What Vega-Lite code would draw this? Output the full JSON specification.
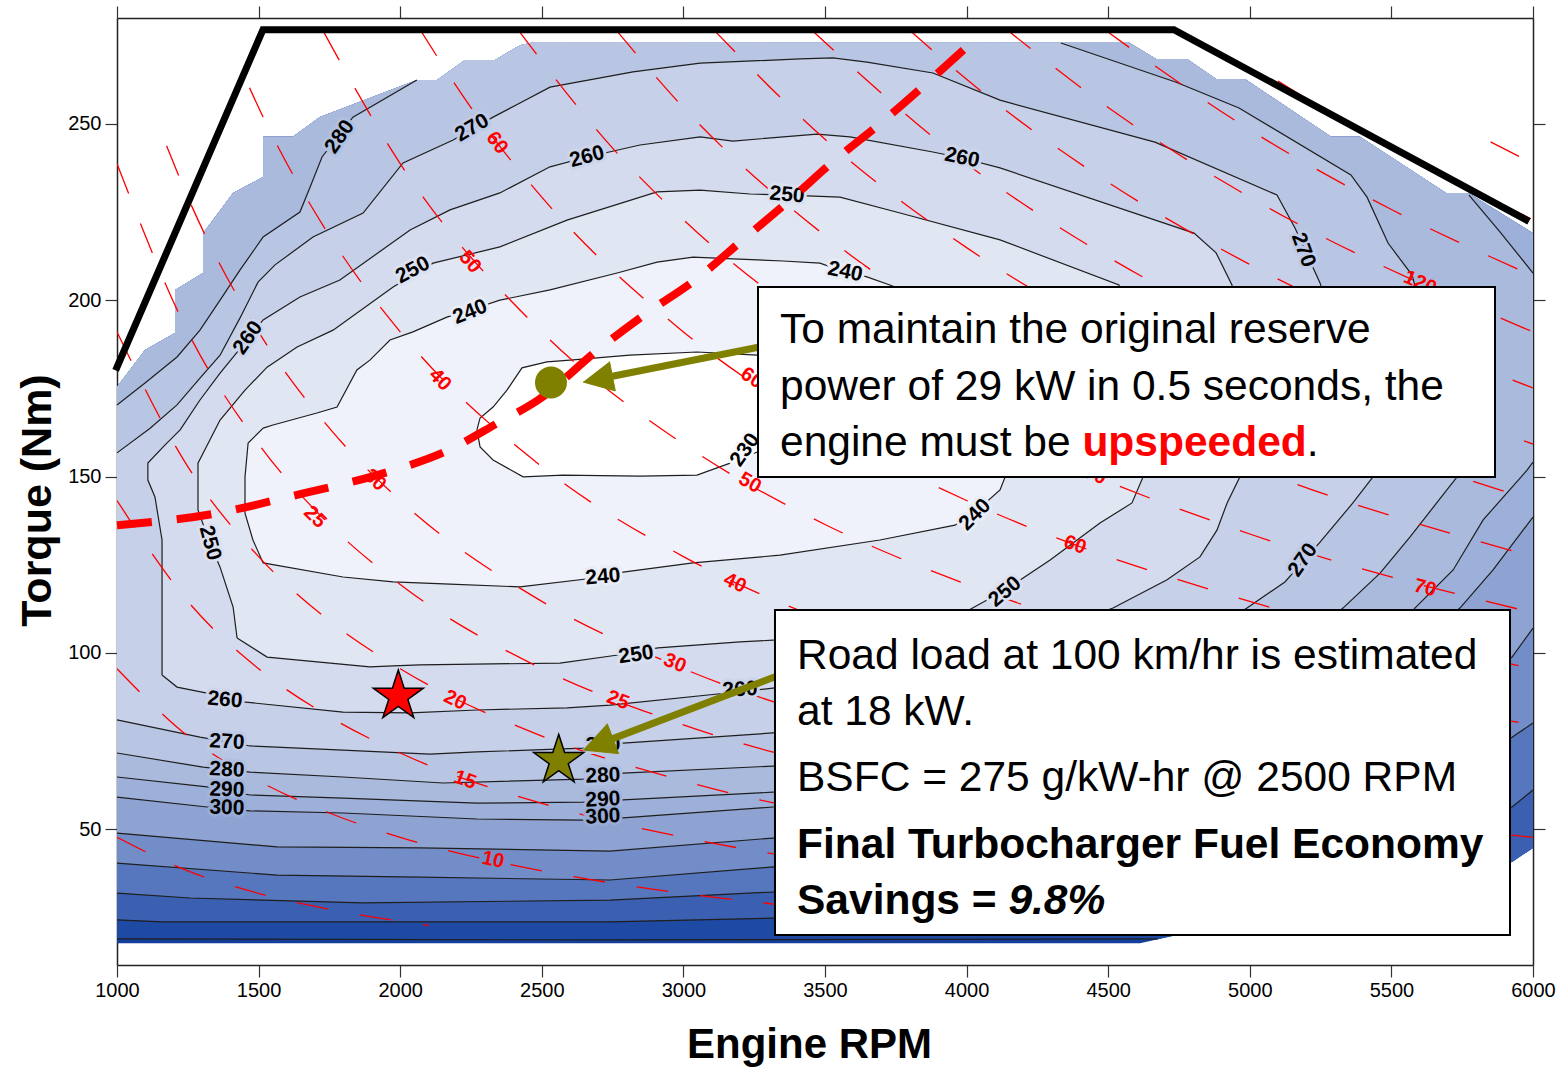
{
"$schema": "https://vega.github.io/schema/vega-lite/v6.json",
"width": 1416, "height": 947,
"autosize": {"type": "none"},
"padding": {"left": 117, "top": 18, "right": 29, "bottom": 103},
"background": "#ffffff",
"config": {
  "font": "Liberation Sans",
  "view": {"stroke": null},
  "axis": {"grid": false, "domain": true, "domainColor": "#222222", "domainWidth": 1.5, "zindex": 1,
    "labelFont": "Liberation Sans", "labelFontSize": 20, "labelColor": "#000000", "labelPadding": 3,
    "tickColor": "#333333", "tickSize": 12, "tickWidth": 1.2,
    "titleFont": "Liberation Sans", "titleFontSize": 43, "titleFontWeight": "bold", "titleColor": "#000000"}
},
"datasets": {
"poly": [
{"p":"top","s":"b","i":1,"rpm":1000,"nm":175.4},{"p":"top","s":"b","i":2,"rpm":1099,"nm":185.9},{"p":"top","s":"b","i":3,"rpm":1205,"nm":190.7},{"p":"top","s":"b","i":4,"rpm":1205,"nm":202.9},{"p":"top","s":"b","i":5,"rpm":1304,"nm":207.7},{"p":"top","s":"b","i":6,"rpm":1304,"nm":219.0},{"p":"top","s":"b","i":7,"rpm":1410,"nm":230.4},{"p":"top","s":"b","i":8,"rpm":1516,"nm":234.9},{"p":"top","s":"b","i":9,"rpm":1516,"nm":246.3},{"p":"top","s":"b","i":10,"rpm":1621,"nm":246.3},{"p":"top","s":"b","i":11,"rpm":1717,"nm":251.9},{"p":"top","s":"b","i":12,"rpm":2059,"nm":262.4},{"p":"top","s":"b","i":13,"rpm":2130,"nm":262.4},{"p":"top","s":"b","i":14,"rpm":2229,"nm":268.1},{"p":"top","s":"b","i":15,"rpm":2335,"nm":268.1},{"p":"top","s":"b","i":16,"rpm":2423,"nm":272.3},{"p":"top","s":"b","i":17,"rpm":2476,"nm":273.2},{"p":"top","s":"b","i":18,"rpm":4570,"nm":273.2},{"p":"top","s":"b","i":19,"rpm":4669,"nm":268.4},{"p":"top","s":"b","i":20,"rpm":4778,"nm":268.4},{"p":"top","s":"b","i":21,"rpm":4881,"nm":262.7},{"p":"top","s":"b","i":22,"rpm":4983,"nm":262.7},{"p":"top","s":"b","i":23,"rpm":5287,"nm":246.3},{"p":"top","s":"b","i":24,"rpm":5389,"nm":246.3},{"p":"top","s":"b","i":25,"rpm":5693,"nm":230.4},{"p":"top","s":"b","i":26,"rpm":5771,"nm":230.4},
{"p":"tr","s":"b","i":27,"rpm":6000,"nm":219.0},
{"p":"br","s":"b","i":28,"rpm":6000,"nm":44.7},{"p":"br","s":"b","i":29,"rpm":5926,"nm":40.7},
{"p":"bot","s":"b","i":30,"rpm":4612,"nm":17.7},{"p":"bot","s":"b","i":31,"rpm":1000,"nm":17.7},

{"p":"350","s":"A","i":100,"rpm":4676,"nm":18.9},{"p":"350","s":"A","i":101,"rpm":2741,"nm":18.6},{"p":"350","s":"A","i":102,"rpm":1000,"nm":18.9},

{"p":"340","s":"A","i":100,"rpm":5068,"nm":25.7},{"p":"340","s":"A","i":101,"rpm":4118,"nm":25.4},{"p":"340","s":"A","i":102,"rpm":3316,"nm":24.8},{"p":"340","s":"A","i":103,"rpm":2741,"nm":23.7},{"p":"340","s":"A","i":104,"rpm":1159,"nm":23.7},{"p":"340","s":"A","i":105,"rpm":1000,"nm":24.3},

{"p":"330","s":"A","i":100,"rpm":6000,"nm":61.1},{"p":"330","s":"A","i":101,"rpm":5926,"nm":56.3},{"p":"330","s":"A","i":102,"rpm":5530,"nm":44.1},{"p":"330","s":"A","i":103,"rpm":4824,"nm":34.2},{"p":"330","s":"A","i":104,"rpm":4118,"nm":31.3},{"p":"330","s":"A","i":105,"rpm":3316,"nm":32.2},{"p":"330","s":"A","i":106,"rpm":2741,"nm":29.9},{"p":"330","s":"A","i":107,"rpm":1869,"nm":29.1},{"p":"330","s":"A","i":108,"rpm":1258,"nm":30.5},{"p":"330","s":"A","i":109,"rpm":1000,"nm":31.9},

{"p":"320","s":"A","i":100,"rpm":6000,"nm":80.1},{"p":"320","s":"A","i":101,"rpm":5926,"nm":76.1},{"p":"320","s":"A","i":102,"rpm":5530,"nm":58.3},{"p":"320","s":"A","i":103,"rpm":4824,"nm":44.1},{"p":"320","s":"A","i":104,"rpm":4118,"nm":39.0},{"p":"320","s":"A","i":105,"rpm":3316,"nm":39.3},{"p":"320","s":"A","i":106,"rpm":2741,"nm":35.6},{"p":"320","s":"A","i":107,"rpm":2070,"nm":36.4},{"p":"320","s":"A","i":108,"rpm":1565,"nm":37.0},{"p":"320","s":"A","i":109,"rpm":1000,"nm":40.4},

{"p":"310","s":"A","i":100,"rpm":6000,"nm":107.0},{"p":"310","s":"A","i":101,"rpm":5926,"nm":98.8},{"p":"310","s":"A","i":102,"rpm":5530,"nm":75.3},{"p":"310","s":"A","i":103,"rpm":4824,"nm":58.3},{"p":"310","s":"A","i":104,"rpm":4118,"nm":49.8},{"p":"310","s":"A","i":105,"rpm":3316,"nm":47.5},{"p":"310","s":"A","i":106,"rpm":2741,"nm":43.8},{"p":"310","s":"A","i":107,"rpm":2070,"nm":44.7},{"p":"310","s":"A","i":108,"rpm":1565,"nm":45.0},{"p":"310","s":"A","i":109,"rpm":1000,"nm":48.9},

{"p":"300","s":"A","i":100,"rpm":6000,"nm":138.5},{"p":"300","s":"A","i":101,"rpm":5859,"nm":123.5},{"p":"300","s":"A","i":102,"rpm":5742,"nm":112.7},{"p":"300","s":"A","i":103,"rpm":5530,"nm":97.9},{"p":"300","s":"A","i":104,"rpm":5001,"nm":76.7},{"p":"300","s":"A","i":105,"rpm":4118,"nm":59.7},{"p":"300","s":"A","i":106,"rpm":3316,"nm":56.3},{"p":"300","s":"A","i":107,"rpm":2787,"nm":53.2},{"p":"300","s":"A","i":108,"rpm":2646,"nm":52.6},{"p":"300","s":"A","i":109,"rpm":2271,"nm":52.9},{"p":"300","s":"A","i":110,"rpm":1798,"nm":54.6},{"p":"300","s":"A","i":111,"rpm":1470,"nm":55.2},{"p":"300","s":"A","i":112,"rpm":1318,"nm":56.3},{"p":"300","s":"A","i":113,"rpm":1000,"nm":59.1},

{"p":"290","s":"A","i":100,"rpm":5774,"nm":229.8},{"p":"290","s":"A","i":101,"rpm":5884,"nm":219.3},{"p":"290","s":"A","i":102,"rpm":6000,"nm":207.7},
{"p":"290","s":"B","i":103,"rpm":6000,"nm":154.1},{"p":"290","s":"B","i":104,"rpm":5979,"nm":151.8},{"p":"290","s":"B","i":105,"rpm":5824,"nm":137.7},{"p":"290","s":"B","i":106,"rpm":5718,"nm":123.5},{"p":"290","s":"B","i":107,"rpm":5583,"nm":112.7},{"p":"290","s":"B","i":108,"rpm":5354,"nm":92.3},{"p":"290","s":"B","i":109,"rpm":4824,"nm":72.4},{"p":"290","s":"B","i":110,"rpm":4118,"nm":62.5},{"p":"290","s":"B","i":111,"rpm":3316,"nm":60.5},{"p":"290","s":"B","i":112,"rpm":2787,"nm":58.3},{"p":"290","s":"B","i":113,"rpm":2646,"nm":57.7},{"p":"290","s":"B","i":114,"rpm":2271,"nm":57.4},{"p":"290","s":"B","i":115,"rpm":1798,"nm":58.8},{"p":"290","s":"B","i":116,"rpm":1470,"nm":59.7},{"p":"290","s":"B","i":117,"rpm":1318,"nm":62.0},{"p":"290","s":"B","i":118,"rpm":1000,"nm":64.8},

{"p":"280","s":"A","i":100,"rpm":1000,"nm":170.3},{"p":"280","s":"A","i":101,"rpm":1099,"nm":176.5},{"p":"280","s":"A","i":102,"rpm":1212,"nm":183.9},{"p":"280","s":"A","i":103,"rpm":1293,"nm":191.5},{"p":"280","s":"A","i":104,"rpm":1364,"nm":200.0},{"p":"280","s":"A","i":105,"rpm":1434,"nm":208.5},{"p":"280","s":"A","i":106,"rpm":1516,"nm":217.9},{"p":"280","s":"A","i":107,"rpm":1646,"nm":225.0},{"p":"280","s":"A","i":108,"rpm":1682,"nm":232.1},{"p":"280","s":"A","i":109,"rpm":1724,"nm":240.6},{"p":"280","s":"A","i":110,"rpm":1833,"nm":251.9},{"p":"280","s":"A","i":111,"rpm":2059,"nm":262.4},
{"p":"280","s":"b","i":112,"rpm":2130,"nm":262.4},{"p":"280","s":"b","i":113,"rpm":2229,"nm":268.1},{"p":"280","s":"b","i":114,"rpm":2335,"nm":268.1},{"p":"280","s":"b","i":115,"rpm":2423,"nm":272.3},{"p":"280","s":"b","i":116,"rpm":2476,"nm":273.2},
{"p":"280","s":"B","i":117,"rpm":4333,"nm":272.9},{"p":"280","s":"B","i":118,"rpm":4740,"nm":261.8},{"p":"280","s":"B","i":119,"rpm":4962,"nm":254.5},{"p":"280","s":"B","i":120,"rpm":5357,"nm":235.5},{"p":"280","s":"B","i":121,"rpm":5414,"nm":229.2},{"p":"280","s":"B","i":122,"rpm":5488,"nm":216.2},{"p":"280","s":"B","i":123,"rpm":5573,"nm":207.1},{"p":"280","s":"B","i":124,"rpm":5672,"nm":177.4},{"p":"280","s":"B","i":125,"rpm":5732,"nm":149.9},{"p":"280","s":"B","i":126,"rpm":5566,"nm":132.9},{"p":"280","s":"B","i":127,"rpm":5460,"nm":122.6},{"p":"280","s":"B","i":128,"rpm":5329,"nm":112.7},{"p":"280","s":"B","i":129,"rpm":5001,"nm":89.5},{"p":"280","s":"B","i":130,"rpm":4471,"nm":75.3},{"p":"280","s":"B","i":131,"rpm":3941,"nm":69.6},{"p":"280","s":"B","i":132,"rpm":3316,"nm":67.9},{"p":"280","s":"B","i":133,"rpm":2787,"nm":65.9},{"p":"280","s":"B","i":134,"rpm":2646,"nm":64.2},{"p":"280","s":"B","i":135,"rpm":2151,"nm":63.1},{"p":"280","s":"B","i":136,"rpm":1798,"nm":64.8},{"p":"280","s":"B","i":137,"rpm":1470,"nm":66.2},{"p":"280","s":"B","i":138,"rpm":1304,"nm":67.6},{"p":"280","s":"B","i":139,"rpm":1000,"nm":71.6},

{"p":"270","s":"A","i":100,"rpm":1000,"nm":156.7},{"p":"270","s":"A","i":101,"rpm":1117,"nm":163.7},{"p":"270","s":"A","i":102,"rpm":1212,"nm":170.3},{"p":"270","s":"A","i":103,"rpm":1293,"nm":177.9},{"p":"270","s":"A","i":104,"rpm":1364,"nm":184.4},{"p":"270","s":"A","i":105,"rpm":1434,"nm":194.9},{"p":"270","s":"A","i":106,"rpm":1498,"nm":205.1},{"p":"270","s":"A","i":107,"rpm":1558,"nm":210.0},{"p":"270","s":"A","i":108,"rpm":1692,"nm":217.9},{"p":"270","s":"A","i":109,"rpm":1869,"nm":224.7},{"p":"270","s":"A","i":110,"rpm":2010,"nm":238.9},{"p":"270","s":"A","i":111,"rpm":2187,"nm":245.4},{"p":"270","s":"A","i":112,"rpm":2328,"nm":251.9},{"p":"270","s":"A","i":113,"rpm":2423,"nm":255.9},{"p":"270","s":"A","i":114,"rpm":2529,"nm":260.4},{"p":"270","s":"A","i":115,"rpm":2822,"nm":264.7},{"p":"270","s":"A","i":116,"rpm":3059,"nm":267.2},{"p":"270","s":"A","i":117,"rpm":3412,"nm":268.4},{"p":"270","s":"A","i":118,"rpm":3528,"nm":268.7},{"p":"270","s":"A","i":119,"rpm":3648,"nm":267.5},{"p":"270","s":"A","i":120,"rpm":3881,"nm":264.4},{"p":"270","s":"A","i":121,"rpm":4118,"nm":256.7},{"p":"270","s":"A","i":122,"rpm":4665,"nm":244.8},{"p":"270","s":"A","i":123,"rpm":5096,"nm":229.8},{"p":"270","s":"A","i":124,"rpm":5160,"nm":220.4},{"p":"270","s":"A","i":125,"rpm":5248,"nm":204.9},{"p":"270","s":"A","i":126,"rpm":5354,"nm":177.4},{"p":"270","s":"A","i":127,"rpm":5435,"nm":149.9},{"p":"270","s":"A","i":128,"rpm":5364,"nm":142.5},{"p":"270","s":"A","i":129,"rpm":5248,"nm":131.4},{"p":"270","s":"A","i":130,"rpm":5124,"nm":120.1},{"p":"270","s":"A","i":131,"rpm":4990,"nm":112.7},{"p":"270","s":"A","i":132,"rpm":4648,"nm":95.1},{"p":"270","s":"A","i":133,"rpm":4118,"nm":83.8},{"p":"270","s":"A","i":134,"rpm":3765,"nm":79.5},{"p":"270","s":"A","i":135,"rpm":3316,"nm":77.3},{"p":"270","s":"A","i":136,"rpm":2787,"nm":74.4},{"p":"270","s":"A","i":137,"rpm":2646,"nm":73.0},{"p":"270","s":"A","i":138,"rpm":2271,"nm":71.9},{"p":"270","s":"A","i":139,"rpm":2105,"nm":71.3},{"p":"270","s":"A","i":140,"rpm":1798,"nm":72.4},{"p":"270","s":"A","i":141,"rpm":1470,"nm":73.6},{"p":"270","s":"A","i":142,"rpm":1293,"nm":76.1},{"p":"270","s":"A","i":143,"rpm":1000,"nm":81.0},

{"p":"260","s":"A","i":100,"rpm":1159,"nm":93.7},{"p":"260","s":"A","i":101,"rpm":1159,"nm":132.0},{"p":"260","s":"A","i":102,"rpm":1134,"nm":144.2},{"p":"260","s":"A","i":103,"rpm":1109,"nm":149.0},{"p":"260","s":"A","i":104,"rpm":1109,"nm":153.8},{"p":"260","s":"A","i":105,"rpm":1169,"nm":158.9},{"p":"260","s":"A","i":106,"rpm":1223,"nm":163.2},{"p":"260","s":"A","i":107,"rpm":1293,"nm":171.7},{"p":"260","s":"A","i":108,"rpm":1364,"nm":179.3},{"p":"260","s":"A","i":109,"rpm":1459,"nm":188.7},{"p":"260","s":"A","i":110,"rpm":1516,"nm":194.4},{"p":"260","s":"A","i":111,"rpm":1646,"nm":200.9},{"p":"260","s":"A","i":112,"rpm":1787,"nm":205.7},{"p":"260","s":"A","i":113,"rpm":2035,"nm":219.9},{"p":"260","s":"A","i":114,"rpm":2176,"nm":225.6},{"p":"260","s":"A","i":115,"rpm":2352,"nm":230.4},{"p":"260","s":"A","i":116,"rpm":2529,"nm":237.8},{"p":"260","s":"A","i":117,"rpm":2660,"nm":240.6},{"p":"260","s":"A","i":118,"rpm":2847,"nm":244.0},{"p":"260","s":"A","i":119,"rpm":3059,"nm":246.3},{"p":"260","s":"A","i":120,"rpm":3175,"nm":245.1},{"p":"260","s":"A","i":121,"rpm":3472,"nm":247.1},{"p":"260","s":"A","i":122,"rpm":3588,"nm":246.3},{"p":"260","s":"A","i":123,"rpm":3881,"nm":242.0},{"p":"260","s":"A","i":124,"rpm":3984,"nm":240.3},{"p":"260","s":"A","i":125,"rpm":4118,"nm":237.5},{"p":"260","s":"A","i":126,"rpm":4803,"nm":219.0},{"p":"260","s":"A","i":127,"rpm":4881,"nm":213.4},{"p":"260","s":"A","i":128,"rpm":4937,"nm":204.3},{"p":"260","s":"A","i":129,"rpm":4965,"nm":177.4},{"p":"260","s":"A","i":130,"rpm":4965,"nm":149.9},{"p":"260","s":"A","i":131,"rpm":4920,"nm":142.5},{"p":"260","s":"A","i":132,"rpm":4884,"nm":134.8},{"p":"260","s":"A","i":133,"rpm":4824,"nm":127.2},{"p":"260","s":"A","i":134,"rpm":4708,"nm":120.7},{"p":"260","s":"A","i":135,"rpm":4517,"nm":112.7},{"p":"260","s":"A","i":136,"rpm":4118,"nm":100.8},{"p":"260","s":"A","i":137,"rpm":3765,"nm":93.7},{"p":"260","s":"A","i":138,"rpm":3316,"nm":90.0},{"p":"260","s":"A","i":139,"rpm":3189,"nm":88.9},{"p":"260","s":"A","i":140,"rpm":2741,"nm":85.2},{"p":"260","s":"A","i":141,"rpm":2589,"nm":84.4},{"p":"260","s":"A","i":142,"rpm":2271,"nm":83.8},{"p":"260","s":"A","i":143,"rpm":2035,"nm":83.0},{"p":"260","s":"A","i":144,"rpm":1798,"nm":83.2},{"p":"260","s":"A","i":145,"rpm":1445,"nm":86.1},{"p":"260","s":"A","i":146,"rpm":1318,"nm":88.6},{"p":"260","s":"A","i":147,"rpm":1212,"nm":90.3},{"p":"260","s":"A","i":148,"rpm":1159,"nm":93.7},

{"p":"250","s":"A","i":100,"rpm":1424,"nm":104.2},{"p":"250","s":"A","i":101,"rpm":1410,"nm":113.0},{"p":"250","s":"A","i":102,"rpm":1364,"nm":124.3},{"p":"250","s":"A","i":103,"rpm":1328,"nm":131.1},{"p":"250","s":"A","i":104,"rpm":1286,"nm":140.5},{"p":"250","s":"A","i":105,"rpm":1286,"nm":153.8},{"p":"250","s":"A","i":106,"rpm":1364,"nm":166.0},{"p":"250","s":"A","i":107,"rpm":1452,"nm":174.5},{"p":"250","s":"A","i":108,"rpm":1530,"nm":181.0},{"p":"250","s":"A","i":109,"rpm":1636,"nm":186.7},{"p":"250","s":"A","i":110,"rpm":1763,"nm":191.5},{"p":"250","s":"A","i":111,"rpm":1975,"nm":203.7},{"p":"250","s":"A","i":112,"rpm":2116,"nm":210.5},{"p":"250","s":"A","i":113,"rpm":2352,"nm":215.1},{"p":"250","s":"A","i":114,"rpm":2589,"nm":222.7},{"p":"250","s":"A","i":115,"rpm":2907,"nm":230.7},{"p":"250","s":"A","i":116,"rpm":3059,"nm":231.2},{"p":"250","s":"A","i":117,"rpm":3235,"nm":230.1},{"p":"250","s":"A","i":118,"rpm":3366,"nm":229.8},{"p":"250","s":"A","i":119,"rpm":3553,"nm":229.2},{"p":"250","s":"A","i":120,"rpm":3765,"nm":224.7},{"p":"250","s":"A","i":121,"rpm":4118,"nm":217.1},{"p":"250","s":"A","i":122,"rpm":4538,"nm":204.3},{"p":"250","s":"A","i":123,"rpm":4595,"nm":177.4},{"p":"250","s":"A","i":124,"rpm":4623,"nm":149.9},{"p":"250","s":"A","i":125,"rpm":4584,"nm":142.5},{"p":"250","s":"A","i":126,"rpm":4471,"nm":136.8},{"p":"250","s":"A","i":127,"rpm":4295,"nm":126.3},{"p":"250","s":"A","i":128,"rpm":4136,"nm":117.8},{"p":"250","s":"A","i":129,"rpm":3994,"nm":111.5},{"p":"250","s":"A","i":130,"rpm":3659,"nm":105.1},{"p":"250","s":"A","i":131,"rpm":3316,"nm":103.6},{"p":"250","s":"A","i":132,"rpm":3200,"nm":103.1},{"p":"250","s":"A","i":133,"rpm":2910,"nm":101.4},{"p":"250","s":"A","i":134,"rpm":2769,"nm":99.4},{"p":"250","s":"A","i":135,"rpm":2564,"nm":97.1},{"p":"250","s":"A","i":136,"rpm":2070,"nm":96.6},{"p":"250","s":"A","i":137,"rpm":1975,"nm":96.3},{"p":"250","s":"A","i":138,"rpm":1893,"nm":96.0},{"p":"250","s":"A","i":139,"rpm":1530,"nm":98.8},{"p":"250","s":"A","i":140,"rpm":1424,"nm":104.2},

{"p":"240","s":"A","i":100,"rpm":1516,"nm":163.7},{"p":"240","s":"A","i":101,"rpm":1463,"nm":159.5},{"p":"240","s":"A","i":102,"rpm":1452,"nm":149.9},{"p":"240","s":"A","i":103,"rpm":1452,"nm":139.6},{"p":"240","s":"A","i":104,"rpm":1480,"nm":132.0},{"p":"240","s":"A","i":105,"rpm":1516,"nm":125.5},{"p":"240","s":"A","i":106,"rpm":1798,"nm":121.5},{"p":"240","s":"A","i":107,"rpm":1975,"nm":120.1},{"p":"240","s":"A","i":108,"rpm":2176,"nm":119.5},{"p":"240","s":"A","i":109,"rpm":2423,"nm":118.7},{"p":"240","s":"A","i":110,"rpm":2716,"nm":121.5},{"p":"240","s":"A","i":111,"rpm":2787,"nm":122.9},{"p":"240","s":"A","i":112,"rpm":3034,"nm":125.5},{"p":"240","s":"A","i":113,"rpm":3341,"nm":127.7},{"p":"240","s":"A","i":114,"rpm":3694,"nm":132.0},{"p":"240","s":"A","i":115,"rpm":3959,"nm":136.2},{"p":"240","s":"A","i":116,"rpm":4030,"nm":139.9},{"p":"240","s":"A","i":117,"rpm":4118,"nm":146.2},{"p":"240","s":"A","i":118,"rpm":4136,"nm":149.9},{"p":"240","s":"A","i":119,"rpm":4047,"nm":177.4},{"p":"240","s":"A","i":120,"rpm":3871,"nm":200.0},{"p":"240","s":"A","i":121,"rpm":3729,"nm":204.3},{"p":"240","s":"A","i":122,"rpm":3648,"nm":206.6},{"p":"240","s":"A","i":123,"rpm":3571,"nm":208.0},{"p":"240","s":"A","i":124,"rpm":3482,"nm":210.5},{"p":"240","s":"A","i":125,"rpm":3352,"nm":211.1},{"p":"240","s":"A","i":126,"rpm":3175,"nm":211.7},{"p":"240","s":"A","i":127,"rpm":3034,"nm":212.2},{"p":"240","s":"A","i":128,"rpm":2907,"nm":210.8},{"p":"240","s":"A","i":129,"rpm":2766,"nm":207.7},{"p":"240","s":"A","i":130,"rpm":2529,"nm":202.9},{"p":"240","s":"A","i":131,"rpm":2352,"nm":200.0},{"p":"240","s":"A","i":132,"rpm":2247,"nm":197.2},{"p":"240","s":"A","i":133,"rpm":2165,"nm":195.2},{"p":"240","s":"A","i":134,"rpm":2045,"nm":191.0},{"p":"240","s":"A","i":135,"rpm":1964,"nm":188.7},{"p":"240","s":"A","i":136,"rpm":1893,"nm":183.0},{"p":"240","s":"A","i":137,"rpm":1847,"nm":180.2},{"p":"240","s":"A","i":138,"rpm":1777,"nm":169.7},{"p":"240","s":"A","i":139,"rpm":1706,"nm":168.0},{"p":"240","s":"A","i":140,"rpm":1551,"nm":164.6},{"p":"240","s":"A","i":141,"rpm":1516,"nm":163.7},

{"p":"230","s":"A","i":100,"rpm":2271,"nm":163.2},{"p":"230","s":"A","i":101,"rpm":2282,"nm":158.4},{"p":"230","s":"A","i":102,"rpm":2328,"nm":154.7},{"p":"230","s":"A","i":103,"rpm":2434,"nm":149.9},{"p":"230","s":"A","i":104,"rpm":2575,"nm":150.4},{"p":"230","s":"A","i":105,"rpm":2847,"nm":150.1},{"p":"230","s":"A","i":106,"rpm":3048,"nm":150.4},{"p":"230","s":"A","i":107,"rpm":3165,"nm":153.8},{"p":"230","s":"A","i":108,"rpm":3263,"nm":157.0},{"p":"230","s":"A","i":109,"rpm":3412,"nm":163.2},{"p":"230","s":"A","i":110,"rpm":3447,"nm":177.4},{"p":"230","s":"A","i":111,"rpm":3341,"nm":184.4},{"p":"230","s":"A","i":112,"rpm":3260,"nm":184.4},{"p":"230","s":"A","i":113,"rpm":3048,"nm":185.3},{"p":"230","s":"A","i":114,"rpm":2811,"nm":184.4},{"p":"230","s":"A","i":115,"rpm":2600,"nm":183.0},{"p":"230","s":"A","i":116,"rpm":2518,"nm":182.5},{"p":"230","s":"A","i":117,"rpm":2430,"nm":180.8},{"p":"230","s":"A","i":118,"rpm":2377,"nm":174.5},{"p":"230","s":"A","i":119,"rpm":2328,"nm":169.7},{"p":"230","s":"A","i":120,"rpm":2282,"nm":166.6},{"p":"230","s":"A","i":121,"rpm":2271,"nm":163.2}
],
"kw": [
{"kw":5,"rpm":1000,"nm":47.7},{"kw":5,"rpm":1250,"nm":38.2},{"kw":5,"rpm":1500,"nm":31.8},{"kw":5,"rpm":1750,"nm":27.3},{"kw":5,"rpm":2100,"nm":22.7},
{"kw":10,"rpm":1000,"nm":95.5},{"kw":10,"rpm":1250,"nm":76.4},{"kw":10,"rpm":1500,"nm":63.7},{"kw":10,"rpm":1750,"nm":54.6},{"kw":10,"rpm":2000,"nm":47.7},{"kw":10,"rpm":2500,"nm":38.2},{"kw":10,"rpm":3000,"nm":31.8},{"kw":10,"rpm":3500,"nm":27.3},{"kw":10,"rpm":4000,"nm":23.9},{"kw":10,"rpm":4500,"nm":21.2},{"kw":10,"rpm":4750,"nm":20.1},
{"kw":15,"rpm":1000,"nm":143.2},{"kw":15,"rpm":1250,"nm":114.6},{"kw":15,"rpm":1500,"nm":95.5},{"kw":15,"rpm":1750,"nm":81.9},{"kw":15,"rpm":2000,"nm":71.6},{"kw":15,"rpm":2500,"nm":57.3},{"kw":15,"rpm":3000,"nm":47.7},{"kw":15,"rpm":4000,"nm":35.8},{"kw":15,"rpm":4500,"nm":31.8},{"kw":15,"rpm":5175,"nm":27.7},
{"kw":20,"rpm":1000,"nm":191.0},{"kw":20,"rpm":1250,"nm":152.8},{"kw":20,"rpm":1500,"nm":127.3},{"kw":20,"rpm":1750,"nm":109.1},{"kw":20,"rpm":2000,"nm":95.5},{"kw":20,"rpm":2500,"nm":76.4},{"kw":20,"rpm":3000,"nm":63.7},{"kw":20,"rpm":4000,"nm":47.7},{"kw":20,"rpm":5000,"nm":38.2},{"kw":20,"rpm":5550,"nm":34.4},
{"kw":25,"rpm":1000,"nm":238.7},{"kw":25,"rpm":1250,"nm":191.0},{"kw":25,"rpm":1500,"nm":159.2},{"kw":25,"rpm":1750,"nm":136.4},{"kw":25,"rpm":2000,"nm":119.4},{"kw":25,"rpm":2500,"nm":95.5},{"kw":25,"rpm":3000,"nm":79.6},{"kw":25,"rpm":4000,"nm":59.7},{"kw":25,"rpm":5000,"nm":47.7},{"kw":25,"rpm":5500,"nm":43.4},{"kw":25,"rpm":5915,"nm":40.4},
{"kw":30,"rpm":1175,"nm":243.8},{"kw":30,"rpm":1250,"nm":229.2},{"kw":30,"rpm":1500,"nm":191.0},{"kw":30,"rpm":1750,"nm":163.7},{"kw":30,"rpm":2000,"nm":143.2},{"kw":30,"rpm":2500,"nm":114.6},{"kw":30,"rpm":3000,"nm":95.5},{"kw":30,"rpm":4000,"nm":71.6},{"kw":30,"rpm":5000,"nm":57.3},{"kw":30,"rpm":6000,"nm":47.7},
{"kw":40,"rpm":1468,"nm":260.2},{"kw":40,"rpm":1500,"nm":254.6},{"kw":40,"rpm":1750,"nm":218.3},{"kw":40,"rpm":2000,"nm":191.0},{"kw":40,"rpm":2500,"nm":152.8},{"kw":40,"rpm":3000,"nm":127.3},{"kw":40,"rpm":3500,"nm":109.1},{"kw":40,"rpm":4000,"nm":95.5},{"kw":40,"rpm":5000,"nm":76.4},{"kw":40,"rpm":6000,"nm":63.7},
{"kw":50,"rpm":1730,"nm":276.0},{"kw":50,"rpm":2000,"nm":238.7},{"kw":50,"rpm":2500,"nm":191.0},{"kw":50,"rpm":3000,"nm":159.2},{"kw":50,"rpm":3500,"nm":136.4},{"kw":50,"rpm":4000,"nm":119.4},{"kw":50,"rpm":5000,"nm":95.5},{"kw":50,"rpm":6000,"nm":79.6},
{"kw":60,"rpm":2068,"nm":277.0},{"kw":60,"rpm":2250,"nm":254.6},{"kw":60,"rpm":2500,"nm":229.2},{"kw":60,"rpm":3000,"nm":191.0},{"kw":60,"rpm":3500,"nm":163.7},{"kw":60,"rpm":4000,"nm":143.2},{"kw":60,"rpm":5000,"nm":114.6},{"kw":60,"rpm":6000,"nm":95.5},
{"kw":70,"rpm":2413,"nm":277.0},{"kw":70,"rpm":2750,"nm":243.1},{"kw":70,"rpm":3000,"nm":222.8},{"kw":70,"rpm":3500,"nm":191.0},{"kw":70,"rpm":4000,"nm":167.1},{"kw":70,"rpm":5000,"nm":133.7},{"kw":70,"rpm":6000,"nm":111.4},
{"kw":80,"rpm":2758,"nm":277.0},{"kw":80,"rpm":3000,"nm":254.6},{"kw":80,"rpm":3500,"nm":218.3},{"kw":80,"rpm":4000,"nm":191.0},{"kw":80,"rpm":5000,"nm":152.8},{"kw":80,"rpm":6000,"nm":127.3},
{"kw":90,"rpm":3103,"nm":277.0},{"kw":90,"rpm":3500,"nm":245.6},{"kw":90,"rpm":4000,"nm":214.9},{"kw":90,"rpm":4500,"nm":191.0},{"kw":90,"rpm":5000,"nm":171.9},{"kw":90,"rpm":6000,"nm":143.2},
{"kw":100,"rpm":3447,"nm":277.0},{"kw":100,"rpm":4000,"nm":238.7},{"kw":100,"rpm":4500,"nm":212.2},{"kw":100,"rpm":5000,"nm":191.0},{"kw":100,"rpm":6000,"nm":159.2},
{"kw":110,"rpm":3792,"nm":277.0},{"kw":110,"rpm":4000,"nm":262.6},{"kw":110,"rpm":4500,"nm":233.4},{"kw":110,"rpm":5000,"nm":210.1},{"kw":110,"rpm":6000,"nm":175.1},
{"kw":120,"rpm":4137,"nm":277.0},{"kw":120,"rpm":4500,"nm":254.6},{"kw":120,"rpm":5000,"nm":229.2},{"kw":120,"rpm":6000,"nm":191.0},
{"kw":130,"rpm":4482,"nm":277.0},{"kw":130,"rpm":5000,"nm":248.3},{"kw":130,"rpm":5500,"nm":225.7},{"kw":130,"rpm":6000,"nm":206.9},
{"kw":140,"rpm":5100,"nm":262.1},{"kw":140,"rpm":5250,"nm":254.6},{"kw":140,"rpm":6000,"nm":222.8},
{"kw":150,"rpm":5850,"nm":244.9},{"kw":150,"rpm":6000,"nm":238.7}
],
"clab": [
{"t":"280","rpm":1787,"nm":246.3,"a":-55},{"t":"270","rpm":2254,"nm":248.8,"a":-30},{"t":"260","rpm":1463,"nm":189.3,"a":-55},{"t":"250","rpm":2045,"nm":208.5,"a":-28},{"t":"240","rpm":2247,"nm":196.6,"a":-22},{"t":"260","rpm":2660,"nm":240.6,"a":-15},{"t":"250","rpm":3366,"nm":229.8,"a":5},{"t":"260","rpm":3984,"nm":240.3,"a":12},{"t":"240","rpm":3571,"nm":208.0,"a":12},{"t":"270","rpm":5188,"nm":214.2,"a":70},{"t":"250","rpm":1328,"nm":131.1,"a":75},{"t":"230","rpm":3218,"nm":157.5,"a":-55},{"t":"240","rpm":4030,"nm":139.1,"a":-45},{"t":"250","rpm":4136,"nm":117.3,"a":-40},{"t":"270","rpm":5188,"nm":126.3,"a":-55},{"t":"240","rpm":2716,"nm":121.5,"a":-5},{"t":"260","rpm":1381,"nm":86.6,"a":5},{"t":"270","rpm":1388,"nm":74.7,"a":3},{"t":"280","rpm":1388,"nm":66.8,"a":3},{"t":"290","rpm":1388,"nm":61.1,"a":2},{"t":"300","rpm":1388,"nm":56.0,"a":2},{"t":"250","rpm":2833,"nm":99.4,"a":-8},{"t":"260","rpm":3200,"nm":89.5,"a":-3},{"t":"270","rpm":2716,"nm":73.9,"a":0},{"t":"280","rpm":2716,"nm":65.1,"a":-3},{"t":"290","rpm":2716,"nm":58.3,"a":-3},{"t":"300","rpm":2716,"nm":53.5,"a":-3}
],
"rlab": [
{"t":"10","rpm":2328,"nm":41.3,"a":12},{"t":"15","rpm":2229,"nm":64.0,"a":20},{"t":"20","rpm":2194,"nm":86.6,"a":26},{"t":"25","rpm":2769,"nm":86.6,"a":21},{"t":"30","rpm":2970,"nm":97.1,"a":22},{"t":"40","rpm":3182,"nm":119.8,"a":25},{"t":"50","rpm":3235,"nm":148.2,"a":30},{"t":"60","rpm":4383,"nm":130.6,"a":20},{"t":"70","rpm":5619,"nm":118.4,"a":15},{"t":"25","rpm":1699,"nm":138.5,"a":45},{"t":"30","rpm":1911,"nm":149.0,"a":44},{"t":"40","rpm":2141,"nm":177.4,"a":46},{"t":"50","rpm":2247,"nm":210.8,"a":49},{"t":"60","rpm":2342,"nm":244.6,"a":52},{"t":"60","rpm":3242,"nm":177.9,"a":34},{"t":"70","rpm":4454,"nm":150.4,"a":23},{"t":"120","rpm":5601,"nm":204.9,"a":24}
],
"maxT": [{"rpm":1000,"nm":181.0},{"rpm":1515.5,"nm":276.7},{"rpm":4732,"nm":276.7},{"rpm":5975,"nm":222.8}],
"reserve": [
{"rpm":1000,"nm":136.2},{"rpm":1339,"nm":139.4},{"rpm":1646,"nm":145.0},{"rpm":1957,"nm":151.3},{"rpm":2158,"nm":157.0},{"rpm":2345,"nm":165.2},{"rpm":2487,"nm":171.7},{"rpm":2698,"nm":185.9},{"rpm":2872,"nm":196.4},{"rpm":3041,"nm":205.7},{"rpm":3210,"nm":217.1},{"rpm":3376,"nm":228.4},{"rpm":3535,"nm":239.7},{"rpm":3701,"nm":250.5},{"rpm":3864,"nm":261.9},{"rpm":4001,"nm":271.8}
],
"pts": [{"m":"dot","rpm":2532.4,"nm":176.65},{"m":"base","rpm":1993.3,"nm":87.68},{"m":"turbo","rpm":2559.7,"nm":69.45}],
"arrows": [
{"a":"1","part":"s","i":1,"rpm":3323.4,"nm":187.57},{"a":"1","part":"s","i":2,"rpm":2749.3,"nm":178.44},
{"a":"2","part":"s","i":1,"rpm":3376.4,"nm":94.85},{"a":"2","part":"s","i":2,"rpm":2751.1,"nm":75.68},
{"a":"1","part":"h","i":1,"rpm":2645.5,"nm":176.79},{"a":"1","part":"h","i":2,"rpm":2759.6,"nm":174.27},{"a":"1","part":"h","i":3,"rpm":2739.1,"nm":182.60},
{"a":"2","part":"h","i":1,"rpm":2645.5,"nm":72.45},{"a":"2","part":"h","i":2,"rpm":2771.2,"nm":71.43},{"a":"2","part":"h","i":3,"rpm":2731.0,"nm":79.94}
],
"boxes": [{"rpm":3263.4,"rpm2":5865.8,"nm":203.73,"nm2":149.86},{"rpm":3323.4,"rpm2":5918.8,"nm":112.15,"nm2":20.0}],
"ann": [
{"k":"n","t":"To maintain the original reserve","rpm":3341.1,"nm":187.85},
{"k":"n","t":"power of 29 kW in 0.5 seconds, the","rpm":3341.1,"nm":171.69},
{"k":"n","t":"engine must be","rpm":3341.1,"nm":155.81},
{"k":"r","t":"upspeeded","rpm":4408.9,"nm":155.81},
{"k":"n","t":".","rpm":5201.3,"nm":155.81},
{"k":"n","t":"Road load at 100 km/hr is estimated","rpm":3401.2,"nm":95.42},
{"k":"n","t":"at 18 kW.","rpm":3401.2,"nm":79.55},
{"k":"n","t":"BSFC = 275 g/kW-hr @ 2500 RPM","rpm":3401.2,"nm":60.83},
{"k":"b","t":"Final Turbocharger Fuel Economy","rpm":3401.2,"nm":41.83},
{"k":"b","t":"Savings =","rpm":3401.2,"nm":25.95},
{"k":"bi","t":"9.8%","rpm":4147.6,"nm":25.95}
]
},
"layer": [
{
 "encoding": {
   "x": {"field": "rpm", "type": "quantitative", "scale": {"domain": [1000, 6000], "nice": false, "zero": false},
     "axis": {"values": [1000,1500,2000,2500,3000,3500,4000,4500,5000,5500,6000], "format": "d", "title": "Engine RPM", "labelFlush": false, "titleX": 692, "titleY": 92, "titleFontSize": 42, "titleAlign": "center", "titleBaseline": "alphabetic"}},
   "y": {"field": "nm", "type": "quantitative", "scale": {"domain": [11.5, 280], "nice": false, "zero": false},
     "axis": {"values": [50,100,150,200,250], "title": "Torque (Nm)", "titleX": -67, "titleY": 482, "titleAngle": -90, "titleAlign": "center", "titleBaseline": "alphabetic", "labelPadding": 4}}
 },
 "layer": [
  {"data": {"name": "poly"}, "transform": [{"filter": "datum.p == 'top' || datum.p == 'tr' || datum.p == 'br' || datum.p == 'bot'"}], "mark": {"type": "line", "fill": "#133f9a", "strokeWidth": 0}, "encoding": {"order": {"field": "i", "type": "quantitative"}}},
  {"data": {"name": "poly"}, "transform": [{"filter": "datum.p == 'top' || datum.p == 'tr' || datum.p == 'br' || datum.p == '350'"}], "mark": {"type": "line", "fill": "#1f4aa3", "strokeWidth": 0}, "encoding": {"order": {"field": "i", "type": "quantitative"}}},
  {"data": {"name": "poly"}, "transform": [{"filter": "datum.p == 'top' || datum.p == 'tr' || datum.p == 'br' || datum.p == '340'"}], "mark": {"type": "line", "fill": "#3b60b1", "strokeWidth": 0}, "encoding": {"order": {"field": "i", "type": "quantitative"}}},
  {"data": {"name": "poly"}, "transform": [{"filter": "datum.p == 'top' || datum.p == 'tr' || datum.p == '330'"}], "mark": {"type": "line", "fill": "#5676be", "strokeWidth": 0}, "encoding": {"order": {"field": "i", "type": "quantitative"}}},
  {"data": {"name": "poly"}, "transform": [{"filter": "datum.p == 'top' || datum.p == 'tr' || datum.p == '320'"}], "mark": {"type": "line", "fill": "#738dc8", "strokeWidth": 0}, "encoding": {"order": {"field": "i", "type": "quantitative"}}},
  {"data": {"name": "poly"}, "transform": [{"filter": "datum.p == 'top' || datum.p == 'tr' || datum.p == '310'"}], "mark": {"type": "line", "fill": "#8ea3d2", "strokeWidth": 0}, "encoding": {"order": {"field": "i", "type": "quantitative"}}},
  {"data": {"name": "poly"}, "transform": [{"filter": "datum.p == 'top' || datum.p == 'tr' || datum.p == '300'"}], "mark": {"type": "line", "fill": "#9db0d9", "strokeWidth": 0}, "encoding": {"order": {"field": "i", "type": "quantitative"}}},
  {"data": {"name": "poly"}, "transform": [{"filter": "datum.p == 'top' || datum.p == '290'"}], "mark": {"type": "line", "fill": "#aabadd", "strokeWidth": 0}, "encoding": {"order": {"field": "i", "type": "quantitative"}}},
  {"data": {"name": "poly"}, "transform": [{"filter": "datum.p == '280'"}], "mark": {"type": "line", "fill": "#b8c5e3", "strokeWidth": 0}, "encoding": {"order": {"field": "i", "type": "quantitative"}}},
  {"data": {"name": "poly"}, "transform": [{"filter": "datum.p == '270'"}], "mark": {"type": "line", "fill": "#c6d0e8", "strokeWidth": 0}, "encoding": {"order": {"field": "i", "type": "quantitative"}}},
  {"data": {"name": "poly"}, "transform": [{"filter": "datum.p == '260'"}], "mark": {"type": "line", "fill": "#d4dbee", "strokeWidth": 0}, "encoding": {"order": {"field": "i", "type": "quantitative"}}},
  {"data": {"name": "poly"}, "transform": [{"filter": "datum.p == '250'"}], "mark": {"type": "line", "fill": "#e1e6f3", "strokeWidth": 0}, "encoding": {"order": {"field": "i", "type": "quantitative"}}},
  {"data": {"name": "poly"}, "transform": [{"filter": "datum.p == '240'"}], "mark": {"type": "line", "fill": "#eff2fa", "strokeWidth": 0}, "encoding": {"order": {"field": "i", "type": "quantitative"}}},
  {"data": {"name": "poly"}, "transform": [{"filter": "datum.p == '230'"}], "mark": {"type": "line", "fill": "#ffffff", "strokeWidth": 0}, "encoding": {"order": {"field": "i", "type": "quantitative"}}},
  {"data": {"name": "poly"}, "transform": [{"filter": "datum.s != 'b'"}], "mark": {"type": "line", "color": "#1e1e1e", "strokeWidth": 1.2},
   "encoding": {"detail": [{"field": "p", "type": "nominal"}, {"field": "s", "type": "nominal"}], "order": {"field": "i", "type": "quantitative"}}},
  {"data": {"name": "kw"}, "mark": {"type": "line", "clip": true, "color": "#ff0000", "strokeWidth": 1.3, "strokeDash": [32, 32], "interpolate": "monotone"},
   "encoding": {"detail": {"field": "kw", "type": "nominal"}}},
  {"data": {"name": "clab"}, "mark": {"type": "text", "font": "Liberation Sans", "fontSize": 21, "fontWeight": "bold", "strokeWidth": 6, "strokeJoin": "round", "align": "center", "baseline": "middle"},
   "encoding": {"text": {"field": "t"}, "angle": {"field": "a", "type": "quantitative", "scale": null},
     "stroke": {"field": "t", "type": "nominal", "scale": {"domain": ["230","240","250","260","270","280","290","300"], "range": ["#f7f9fd","#e8ecf6","#dbe1f0","#cdd5eb","#bfcae6","#b1c0e0","#a4b5db","#97abd5"]}, "legend": null}}},
  {"data": {"name": "clab"}, "mark": {"type": "text", "font": "Liberation Sans", "fontSize": 21, "fontWeight": "bold", "color": "#000000", "align": "center", "baseline": "middle"},
   "encoding": {"text": {"field": "t"}, "angle": {"field": "a", "type": "quantitative", "scale": null}}},
  {"data": {"name": "rlab"}, "mark": {"type": "text", "font": "Liberation Sans", "fontSize": 20, "fontWeight": "bold", "color": "#ff0000", "align": "center", "baseline": "middle"},
   "encoding": {"text": {"field": "t"}, "angle": {"field": "a", "type": "quantitative", "scale": null}}},
  {"data": {"name": "maxT"}, "mark": {"type": "line", "color": "#000000", "strokeWidth": 7, "strokeCap": "square"}, "encoding": {}},
  {"data": {"name": "reserve"}, "mark": {"type": "line", "color": "#ff0000", "strokeWidth": 8, "strokeDash": [35, 25], "interpolate": "monotone"}, "encoding": {}},
  {"data": {"name": "pts"}, "transform": [{"filter": "datum.m == 'dot'"}], "mark": {"type": "point", "shape": "circle", "filled": true, "size": 1024, "color": "#808000", "opacity": 1}, "encoding": {}},
  {"data": {"name": "pts"}, "transform": [{"filter": "datum.m != 'dot'"}],
   "mark": {"type": "point", "shape": "M0,-1L0.2245,-0.309L0.9511,-0.309L0.3633,0.118L0.5878,0.809L0,0.382L-0.5878,0.809L-0.3633,0.118L-0.9511,-0.309L-0.2245,-0.309Z", "size": 2767, "filled": true, "stroke": "#000000", "strokeWidth": 1.5, "opacity": 1},
   "encoding": {"fill": {"field": "m", "type": "nominal", "scale": {"domain": ["base", "turbo"], "range": ["#ff0000", "#808000"]}, "legend": null}}},
  {"data": {"name": "arrows"}, "transform": [{"filter": "datum.part == 's'"}], "mark": {"type": "line", "color": "#808000", "strokeWidth": 7},
   "encoding": {"detail": {"field": "a", "type": "nominal"}, "order": {"field": "i", "type": "quantitative"}}},
  {"data": {"name": "arrows"}, "transform": [{"filter": "datum.part == 'h'"}], "mark": {"type": "line", "fill": "#808000", "color": "#808000", "strokeWidth": 1},
   "encoding": {"detail": {"field": "a", "type": "nominal"}, "order": {"field": "i", "type": "quantitative"}}},
  {"data": {"name": "boxes"}, "mark": {"type": "rect", "fill": "#ffffff", "stroke": "#000000", "strokeWidth": 2},
   "encoding": {"x2": {"field": "rpm2"}, "y2": {"field": "nm2"}}},
  {"data": {"name": "ann"}, "transform": [{"filter": "datum.k == 'n'"}], "mark": {"type": "text", "font": "Liberation Sans", "fontSize": 42.5, "align": "left", "baseline": "alphabetic", "color": "#000000"}, "encoding": {"text": {"field": "t"}}},
  {"data": {"name": "ann"}, "transform": [{"filter": "datum.k == 'r'"}], "mark": {"type": "text", "font": "Liberation Sans", "fontSize": 42.5, "fontWeight": "bold", "align": "left", "baseline": "alphabetic", "color": "#ff0000"}, "encoding": {"text": {"field": "t"}}},
  {"data": {"name": "ann"}, "transform": [{"filter": "datum.k == 'b'"}], "mark": {"type": "text", "font": "Liberation Sans", "fontSize": 42.5, "fontWeight": "bold", "align": "left", "baseline": "alphabetic", "color": "#000000"}, "encoding": {"text": {"field": "t"}}},
  {"data": {"name": "ann"}, "transform": [{"filter": "datum.k == 'bi'"}], "mark": {"type": "text", "font": "Liberation Sans", "fontSize": 42.5, "fontWeight": "bold", "fontStyle": "italic", "align": "left", "baseline": "alphabetic", "color": "#000000"}, "encoding": {"text": {"field": "t"}}}
 ]
},
{
 "data": {"values": [{"rpm": 1000, "nm": 50}]},
 "mark": {"type": "point", "opacity": 0},
 "encoding": {
   "x": {"field": "rpm", "type": "quantitative", "scale": {"domain": [1000, 6000], "nice": false, "zero": false},
     "axis": {"orient": "top", "labels": false, "title": null, "values": [1000,1500,2000,2500,3000,3500,4000,4500,5000,5500,6000]}},
   "y": {"field": "nm", "type": "quantitative", "scale": {"domain": [11.5, 280], "nice": false, "zero": false},
     "axis": {"orient": "right", "labels": false, "title": null, "values": [50,100,150,200,250]}}
 }
}
],
"resolve": {"axis": {"x": "independent", "y": "independent"}}
}
